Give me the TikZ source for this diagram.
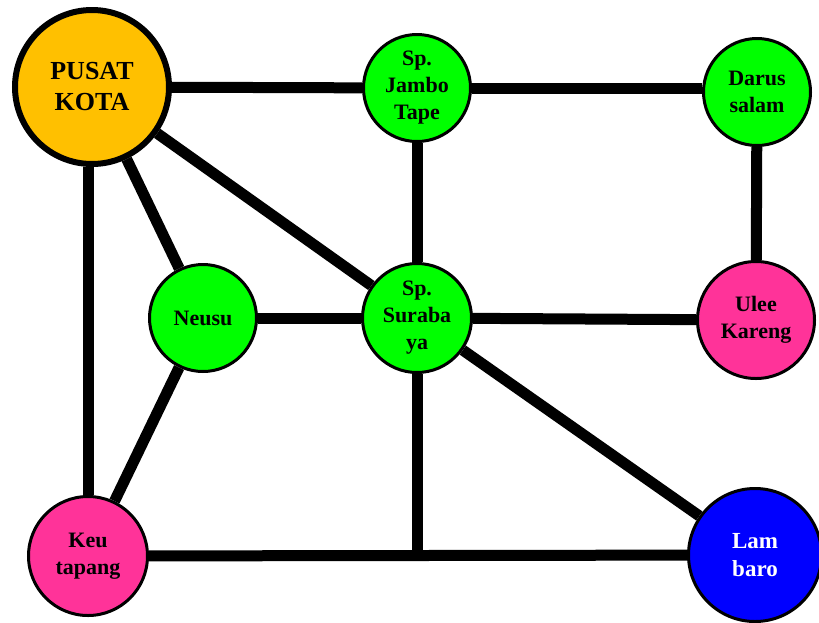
\documentclass[tikz,border=0pt]{standalone}
\usepackage{fontspec}
\setmainfont{Liberation Serif}
\usepackage{xcolor}
\usetikzlibrary{backgrounds}
\definecolor{oranye}{RGB}{255,192,0}
\definecolor{hijau}{RGB}{0,255,0}
\definecolor{merahmuda}{RGB}{255,51,153}
\definecolor{biru}{RGB}{0,0,255}

\tikzset{
	halte/.style={circle,
		draw=black,
		line width=3pt,
		inner sep=0pt,
		align=center,
		font=\fontsize{22}{27}\selectfont\bfseries},
	jalan/.style={line width=11pt}
}

\begin{document}
\begin{tikzpicture}[x=1pt,y=-1pt]
	\useasboundingbox (0,0) rectangle (819,622);
	% simpul
	\node[halte, fill=oranye, line width=6pt, minimum size=154pt,
		font=\fontsize{26}{31}\selectfont\bfseries] (pusat) at (92,87) {PUSAT\\KOTA};
	\node[halte, fill=hijau, minimum size=107pt] (jambo) at (417,88) {Sp.\\Jambo\\Tape};
	\node[halte, fill=hijau, minimum size=107pt] (darus) at (757,92) {Darus\\salam};
	\node[halte, fill=hijau, minimum size=107pt] (neusu) at (203,318) {Neusu};
	\node[halte, fill=hijau, minimum size=109pt] (surabaya) at (417,318) {Sp.\\Suraba\\ya};
	\node[halte, fill=merahmuda, minimum size=117pt] (ulee) at (756,320) {Ulee\\Kareng};
	\node[halte, fill=merahmuda, minimum size=119pt] (keu) at (88,556) {Keu\\tapang};
	\node[halte, fill=biru, text=white, minimum size=133pt,
		font=\fontsize{23}{28}\selectfont\bfseries] (lambaro) at (755,555) {Lam\\baro};
	\coordinate (simpang) at (surabaya |- keu);
	% jalan
	\begin{pgfonlayer}{background}
	\draw[jalan] (pusat) -- (jambo);
	\draw[jalan] (jambo) -- (jambo -| darus.west);
	\draw[jalan] (darus) -- (ulee);
	\draw[jalan] (pusat) -- (neusu);
	\draw[jalan] (pusat) -- (surabaya);
	\draw[jalan] (pusat.south -| keu) -- (keu);
	\draw[jalan] (jambo) -- (surabaya);
	\draw[jalan] (neusu) -- (surabaya);
	\draw[jalan] (surabaya) -- (ulee);
	\draw[jalan] (neusu) -- (keu);
	\draw[jalan] (surabaya) -- (lambaro);
	\draw[jalan] (surabaya) -- (simpang);
	\draw[jalan] (keu) -- (lambaro);
	\end{pgfonlayer}
\end{tikzpicture}
\end{document}
